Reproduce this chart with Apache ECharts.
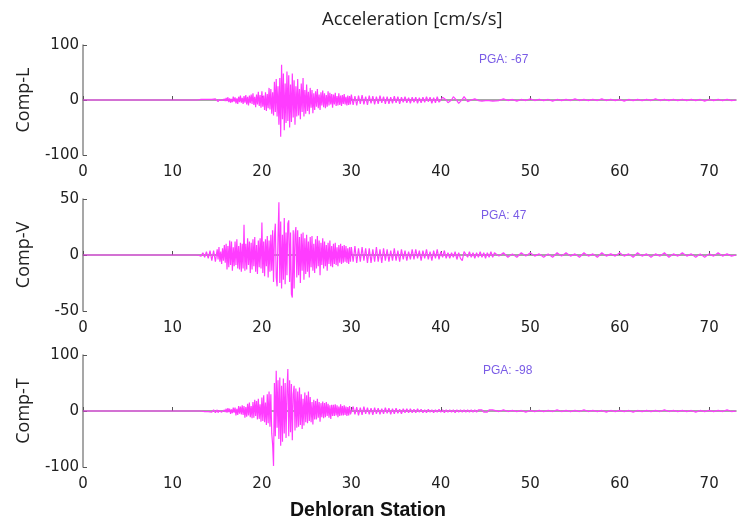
<!DOCTYPE html>
<html>
<head>
<meta charset="utf-8">
<script src="https://cdn.jsdelivr.net/npm/echarts@6/dist/echarts.min.js"></script>
<style>
  html, body { margin: 0; padding: 0; background: #fff; }
  #chart { width: 740px; height: 521px; }
</style>
</head>
<body>
<div id="chart"></div>
<script>
// record samples (seconds): flat to 12 s; A 12-15 @0.2, B 15-30 @0.1, C 30-46 @0.2, D 46-72.5 @0.5
const compNames = ['Comp-L', 'Comp-V', 'Comp-T'];
const pgaLabels = ['PGA: -67', 'PGA: 47', 'PGA: -98'];

const compL_A = [0,0,0,0,0, 0,1,-1,1,-1, 1,-2,1,-1,2];
const compL_B = [
  2,-3,1,-2,3,-1,2,-3,2,-2,
  4,-2,5,-4,3,-5,2,-4,6,-3,
  5,-6,3,-7,6,-4,8,-5,4,-7,
  7,-5,9,-8,6,-10,8,-6,10,-7,
  12,-9,6,-13,10,-8,15,-11,9,-14,
  16,-12,8,-18,14,-20,11,-15,22,-17,
  20,-25,14,-28,33,-22,38,-30,25,-45,
  40,-67,64,-35,48,-55,30,-42,52,-38,
  45,-50,28,-40,48,-32,36,-45,25,-30,
  38,-28,20,-35,30,-22,40,-30,18,-25,
  28,-20,15,-26,22,-14,18,-24,12,-18,
  16,-12,20,-15,10,-18,14,-10,17,-13,
  12,-15,9,-12,16,-10,13,-8,11,-14,
  10,-8,13,-11,7,-10,12,-9,8,-11,
  9,-7,11,-8,6,-10,8,-9,7,-8
];
const compL_C = [
  10,-9,7,-10,8, -7,9,-8,6,-9, 8,-6,7,-8,6, -7,8,-5,6,-7,
  6,-7,5,-6,7, -5,6,-7,5,-4, 6,-5,4,-6,5, -4,5,-6,4,-5,
  5,-4,6,-3,5, -6,4,-5,6,-4, 0,5,6,0,-5, -6,0,6,5,-1,
  -6,-5,1,6,4, -3,-5,0,3,2, 2,-1,2,-2,1, -1,2,-1,1,-2
];
const compL_D = [
  1,-1,2,-1,1,-2,1,-1,2,-1, 1,-1,1,-2,1,-1,1,-1,2,-1,
  1,-1,1,-1,2,-1,1,-1,1,-2, 1,-1,1,-1,1,-1,2,-1,1,-1,
  1,-1,1,-1,1,-1,1,-2,1,-1, 1,-1,1,-1
];

const compV_A = [0,0,0,0,0, 1,-1,2,-2,3, -3,4,-5,4,-6];
const compV_B = [
  5,-4,7,-6,3,-8,6,-5,9,-7,
  10,-13,8,-11,13,-9,12,-14,7,-10,
  12,-9,14,-12,8,-13,11,-15,10,-12,
  27,-14,10,-13,15,-9,12,-16,11,-13,
  14,-10,16,-15,9,-17,13,-11,15,-12,
  29,-16,12,-19,14,-10,17,-20,13,-15,
  18,-14,22,-24,16,28,-20,-28,15,47,
  -25,30,-30,18,-22,33,-26,20,-18,28,
  31,-24,20,-35,-38,22,-30,18,25,-20,
  22,-18,16,-25,19,-14,20,-22,15,-17,
  18,-15,12,-20,16,-11,17,-14,10,-16,
  14,-12,17,-10,13,-18,11,-9,15,-12,
  12,-10,9,-14,11,-8,13,-10,8,-11,
  10,-8,11,-9,7,-10,9,-7,10,-8,
  8,-7,9,-6,8,-7,6,-8,7,-6
];
const compV_C = [
  7,-6,8,-7,6, -6,7,-5,6,-7, 6,-7,5,-6,7, -6,5,-7,6,-5,
  5,-6,4,-5,6, -5,4,-6,5,-4, 4,-5,3,-4,5, -4,5,-3,4,-5,
  4,-3,5,-4,3, -5,4,-3,5,-4, 3,-2,4,-3,2, -3,2,-2,3,-4,
  2,-3,-5,3,2, -2,3,-2,2,-3, 2,-2,3,-2,2, -3,2,-2,3,-2
];
const compV_D = [
  2,-1,2,-2,1,-2,2,-1,2,-1, 1,-2,1,-2,2,-1,2,-1,1,-2,
  2,-1,1,-2,2,-1,1,-1,2,-1, 1,-2,2,-1,1,-2,1,-1,2,-2,
  1,-1,2,-1,1,-2,1,-2,1,-1, 2,-1,1,-1
];

const compT_A = [0,0,0,0,0, 0,0,1,-1,1, -1,2,-2,2,-3];
const compT_B = [
  2,-3,1,-2,3,-2,1,-3,2,-2,
  4,-3,5,-2,4,-5,3,-4,6,-3,
  6,-8,4,-7,9,-5,8,-6,10,-7,
  9,-12,7,-10,13,-8,15,-11,9,-13,
  16,-12,20,-9,18,-15,22,-14,12,-19,
  24,-18,28,-20,15,-25,30,-22,35,-28,
  30,-40,-60,-98,50,-45,72,-30,55,-50,
  60,-62,45,-55,58,-40,50,-48,35,75,
  -45,55,-38,48,-52,30,45,-35,40,-30,
  35,-28,42,-25,30,-32,22,-26,33,-20,
  28,-22,35,-18,25,-20,16,-24,20,-15,
  18,-15,22,-12,16,-19,14,-11,17,-13,
  14,-11,16,-9,13,-12,10,-14,11,-9,
  11,-9,12,-8,10,-11,8,-9,12,-8,
  9,-8,10,-7,8,-9,7,-8,9,-6
];
const compT_C = [
  -7,8,-6,7,-8, 6,-7,8,-5,6, -6,5,-7,6,-5, 5,-6,4,-5,6,
  -4,5,-6,4,-5, 5,-4,3,-5,4, -3,4,-3,4,-3, 3,-3,4,-2,3,
  -3,2,-3,3,-2, 2,-3,2,-2,3, -2,2,-3,2,-2, 2,-2,2,-3,2,
  -2,2,-2,2,-2, 2,-2,2,-2,2, -2,2,-1,2,-2, 1,-2,2,-1,2
];
const compT_D = [
  1,-1,2,-1,1,-1,1,-2,1,-1, 1,-1,1,-1,2,-1,1,-1,1,-1,
  2,-1,1,-1,1,-2,1,-1,1,-1, 1,-2,1,-1,1,-1,1,-1,2,-1,
  1,-1,1,-1,1,-2,1,-1,1,-1, 1,-1,2,-1
];

function toPairs(a, b, c, d) {
  const out = [[0, 0]];
  a.forEach((v, i) => out.push([+(12 + i * 0.2).toFixed(2), v]));
  b.forEach((v, i) => out.push([+(15 + i * 0.1).toFixed(2), v]));
  c.forEach((v, i) => out.push([+(30 + i * 0.2).toFixed(2), v]));
  d.forEach((v, i) => out.push([46 + i * 0.5, v]));
  out.push([73, 0]);
  return out;
}

const traces = [
  toPairs(compL_A, compL_B, compL_C, compL_D),
  toPairs(compV_A, compV_B, compV_C, compV_D),
  toPairs(compT_A, compT_B, compT_C, compT_D)
];
const yLimits = [100, 50, 100];
const gridTops = [45, 199, 355];
const gridHeights = [110, 112, 112];
const pgaPos = [[474, 49], [476, 205], [478, 360]];

const tickFont = 'DejaVu Sans';
const chart = echarts.init(document.getElementById('chart'));

const option = {
  backgroundColor: '#fff',
  animation: false,
  title: [
    { text: 'Acceleration [cm/s/s]', left: 317, top: 5,
      textStyle: { fontFamily: 'Open Sans', fontSize: 18.5, fontWeight: 'normal', color: '#222' } },
    { text: 'Dehloran Station', left: 285, top: 496,
      textStyle: { fontFamily: 'Liberation Sans', fontSize: 19.5, fontWeight: 'bold', color: '#111' } }
  ].concat(pgaLabels.map((t, i) => ({
    text: t, left: pgaPos[i][0], top: pgaPos[i][1],
    textStyle: { fontFamily: 'Liberation Sans', fontSize: 12, fontWeight: 'normal', color: '#7a5ce6' }
  }))),
  grid: gridTops.map((t, i) => ({ left: 83, top: t, width: 653, height: gridHeights[i] })),
  xAxis: gridTops.map((t, i) => ({
    type: 'value', gridIndex: i, min: 0, max: 73, interval: 10,
    axisLine: { lineStyle: { color: '#8a8a8a', width: 1.5 } },
    axisTick: { inside: true, length: 4, lineStyle: { color: '#555' } },
    axisLabel: { showMaxLabel: false, fontFamily: tickFont, fontSize: 15, color: '#222', margin: 10 },
    splitLine: { show: false }
  })),
  yAxis: gridTops.map((t, i) => ({
    type: 'value', gridIndex: i, min: -yLimits[i], max: yLimits[i], interval: yLimits[i],
    name: compNames[i], nameLocation: 'middle', nameGap: 50, nameRotate: 90,
    nameTextStyle: { fontFamily: 'Open Sans', fontSize: 18, color: '#222' },
    axisLine: { show: true, lineStyle: { color: '#8a8a8a', width: 1.5 } },
    axisTick: { show: true, inside: true, length: 4, lineStyle: { color: '#555' } },
    axisLabel: { fontFamily: tickFont, fontSize: 15, color: '#222', margin: 4 },
    splitLine: { show: false }
  })),
  series: traces.map((d, i) => ({
    type: 'line', xAxisIndex: i, yAxisIndex: i, data: d,
    showSymbol: false, symbol: 'none',
    lineStyle: { color: '#ff3cff', width: 1.2 }
  }))
};

chart.setOption(option);
</script>
</body>
</html>
